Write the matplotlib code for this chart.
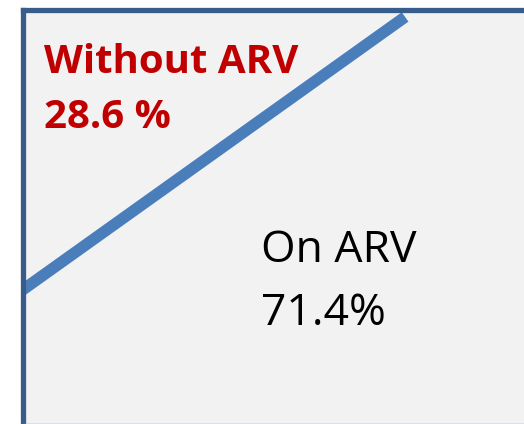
import matplotlib.pyplot as plt

# labels and shares
labels = ["Without ARV", "On ARV"]
share_text = ["28.6 %", "71.4%"]

# dividing line (axes data units, 0..1)
line_x = [0.0, 0.755]
line_y = [0.3225, 0.982]

fig = plt.figure(figsize=(5.24, 4.24), dpi=100)
ax = fig.add_axes([22.5 / 524, 0.5 / 424, 1 - 22.5 / 524 + 0.01, (424 - 10) / 424])
ax.set_facecolor("#f2f2f2")
ax.set_xlim(0, 1)
ax.set_ylim(0, 1)
ax.set_xticks([])
ax.set_yticks([])
for s in ["left", "top"]:
    ax.spines[s].set_color("#385d8a")
    ax.spines[s].set_linewidth(3.8)
ax.spines["right"].set_visible(False)
ax.spines["bottom"].set_color("#7f9cc4")
ax.spines["bottom"].set_linewidth(1.0)

ax.plot(line_x, line_y, color="#4a7ebb", linewidth=8.3, solid_capstyle="butt")

# upper-left region
ax.text(0.043, 0.8466, labels[0], color="#c00000", fontsize=29, fontweight="bold",
        family="Open Sans", va="baseline", ha="left")
ax.text(0.043, 0.7138, share_text[0], color="#c00000", fontsize=29, fontweight="bold",
        family="Open Sans", va="baseline", ha="left")
# lower-right region
ax.text(0.47, 0.390, labels[1], color="black", fontsize=32,
        family="Open Sans", va="baseline", ha="left")
ax.text(0.47, 0.238, share_text[1], color="black", fontsize=32,
        family="Open Sans", va="baseline", ha="left")

fig.savefig("out.png", dpi=100, facecolor="white")
